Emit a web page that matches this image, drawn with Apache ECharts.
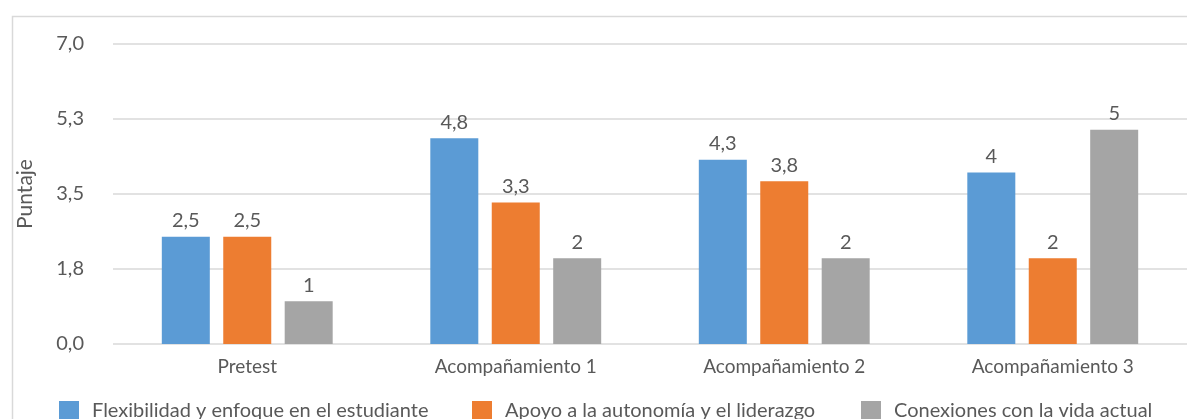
<!DOCTYPE html>
<html>
<head>
<meta charset="utf-8">
<script src="https://cdn.jsdelivr.net/npm/echarts@6/dist/echarts.min.js"></script>
<style>
  html, body { margin: 0; padding: 0; background: #ffffff; }
  #chart { width: 1187px; height: 419px; }
</style>
</head>
<body>
<div id="chart"></div>
<script>
// Categories and scores per dimension
const categories = ['Pretest', 'Acompañamiento 1', 'Acompañamiento 2', 'Acompañamiento 3'];
const seriesNames = [
  'Flexibilidad y enfoque en el estudiante',
  'Apoyo a la autonomía y el liderazgo',
  'Conexiones con la vida actual'
];
const flexibilidad = [2.5, 4.8, 4.3, 4];
const autonomia = [2.5, 3.3, 3.8, 2];
const conexiones = [1, 2, 2, 5];
const yTicks = { min: 0, max: 7, interval: 1.75 };

const colors = ['#5B9BD5', '#ED7D31', '#A5A5A5'];
const textColor = '#595959';
const fontFamily = 'Lato, "Open Sans", sans-serif';

const decimalComma = v => String(v).replace('.', ',');

function barSeries(name, data, color) {
  return {
    name: name,
    type: 'bar',
    data: data,
    barWidth: 48,
    barGap: '28%',
    itemStyle: { color: color },
    label: {
      show: true,
      position: 'top',
      distance: 6,
      color: textColor,
      fontFamily: fontFamily,
      fontSize: 20,
      formatter: p => decimalComma(p.value)
    }
  };
}

const legendLefts = [59, 472, 861];

const chart = echarts.init(document.getElementById('chart'), null, { renderer: 'canvas' });
chart.setOption({
  animation: false,
  color: colors,
  graphic: [{
    type: 'rect',
    silent: true,
    shape: { x: 12.5, y: 16.5, width: 1300, height: 600 },
    style: { fill: 'none', stroke: '#d9d9d9', lineWidth: 1.5 },
    z: -10
  }],
  legend: seriesNames.map((n, i) => ({
    data: [n],
    left: legendLefts[i],
    top: 401,
    padding: 0,
    itemWidth: 20,
    itemHeight: 20,
    icon: 'rect',
    selectedMode: false,
    textStyle: {
      color: textColor,
      fontFamily: fontFamily,
      fontSize: 20,
      padding: [0, 0, 0, 8]
    }
  })),
  grid: { left: 113, top: 44, width: 1089, height: 300, containLabel: false },
  xAxis: {
    type: 'category',
    data: categories,
    axisLine: { show: false },
    axisTick: { show: false },
    axisLabel: {
      color: textColor,
      fontFamily: fontFamily,
      fontSize: 19,
      margin: 13
    }
  },
  yAxis: {
    type: 'value',
    min: yTicks.min,
    max: yTicks.max,
    interval: yTicks.interval,
    name: 'Puntaje',
    nameLocation: 'middle',
    nameGap: 77,
    nameRotate: 90,
    nameTextStyle: { color: textColor, fontFamily: fontFamily, fontSize: 21 },
    axisLine: { show: false },
    axisTick: { show: false },
    splitLine: { lineStyle: { color: '#d9d9d9', width: 1.5 } },
    axisLabel: {
      color: textColor,
      fontFamily: fontFamily,
      fontSize: 20,
      margin: 29,
      formatter: v => v.toFixed(1).replace('.', ',')
    }
  },
  series: [
    barSeries(seriesNames[0], flexibilidad, colors[0]),
    barSeries(seriesNames[1], autonomia, colors[1]),
    barSeries(seriesNames[2], conexiones, colors[2])
  ]
});
</script>
</body>
</html>
